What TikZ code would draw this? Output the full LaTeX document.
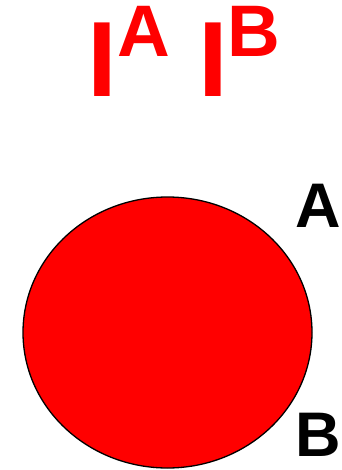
\documentclass[tikz,border=0pt]{standalone}
\usepackage{fontspec}
\setmainfont{Liberation Sans}
\begin{document}
\begin{tikzpicture}[x=1pt, y=-1pt,
    bigletter/.style={anchor=base west, inner sep=0pt, text=red, font=\bfseries\fontsize{107}{107}\selectfont},
    suptext/.style={anchor=base west, inner sep=0pt, text=red, font=\bfseries\fontsize{73}{73}\selectfont},
    pointlabel/.style={anchor=base west, inner sep=0pt, text=black, font=\bfseries\fontsize{63}{63}\selectfont}]
    \def\cX{167.5}   % x-coordinate of centre
    \def\cY{332.5}   % y-coordinate of centre
    \def\rX{144.5}   % horizontal radius
    \def\rY{135.5}   % vertical radius

    \useasboundingbox (0, 0) rectangle (341, 470);

    % The body
    \filldraw[fill=red, draw=black, line width=1.3pt] (\cX, \cY) ellipse [x radius=\rX, y radius=\rY];

    % Title
    \node[bigletter] (iA) at (87, 97) {I};
    \node[suptext] (supA) at (117, 57) {A};
    \node[bigletter] (iB) at (198, 97) {I};
    \node[suptext] (supB) at (227, 57) {B};

    % Points
    \node[pointlabel] (ptA) at (295, 227) {A};
    \node[pointlabel] (ptB) at (295.5, 456) {B};
\end{tikzpicture}
\end{document}
